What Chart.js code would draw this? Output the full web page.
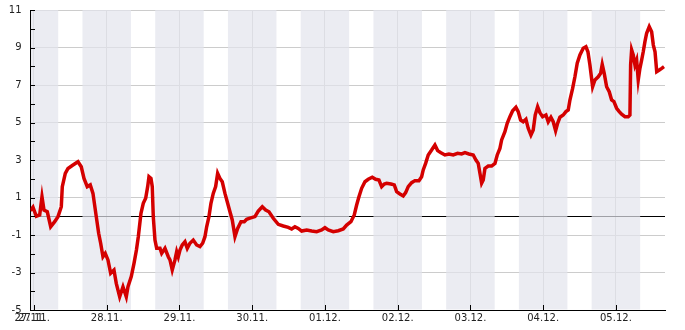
<!DOCTYPE html>
<html>
<head>
<meta charset="utf-8">
<script src="https://cdn.jsdelivr.net/npm/chart.js"></script>
<style>
  html, body { margin: 0; padding: 0; background: #fff; }
  canvas { display: block; }
</style>
</head>
<body>
<canvas id="chart" width="685" height="330"></canvas>
<script>
// --- Data: time in hours since 27.11. 00:00 ---
const dayLabels = ['27.11.', '28.11.', '29.11.', '30.11.', '01.12.', '02.12.', '03.12.', '04.12.', '05.12.'];

const hours = [
  -1.15, -0.33, 0.76, 1.88, 2.64, 3.30, 4.39, 5.51, 6.83, 7.92,
  9.01, 9.34, 10.33, 11.22, 12.87, 14.52, 15.60, 16.50, 17.58, 18.57,
  19.46, 20.55, 21.34, 22.00, 22.76, 23.52, 24.41, 25.30, 26.39, 27.15,
  28.27, 29.36, 30.45, 31.01, 32.10, 33.00, 33.80, 34.42, 35.30, 36.06,
  36.85, 37.51, 37.94, 38.60, 39.03, 39.36, 39.92, 40.48, 41.57, 42.13,
  43.22, 44.31, 44.87, 45.62, 46.52, 47.08, 47.60, 48.17, 48.92, 49.81,
  50.57, 51.46, 52.55, 53.67, 54.76, 55.65, 56.41, 56.97, 57.73, 58.39,
  59.15, 59.94, 60.60, 61.36, 62.12, 63.01, 63.90, 64.66, 65.42, 66.31,
  67.20, 68.29, 69.38, 70.17, 71.26, 72.91, 74.00, 75.32, 76.44, 77.53,
  78.95, 80.60, 82.25, 83.90, 85.02, 86.10, 87.19, 88.32, 89.97, 91.61,
  93.26, 94.91, 96.00, 97.09, 98.74, 100.39, 102.04, 103.16, 104.58, 105.67,
  106.46, 107.22, 108.11, 109.20, 110.29, 111.61, 112.73, 113.82, 114.71, 115.57,
  116.36, 117.78, 118.87, 119.66, 120.74, 121.83, 122.63, 123.48, 124.61, 125.69,
  127.01, 127.90, 128.43, 129.22, 130.08, 131.20, 132.29, 133.18, 134.27, 135.59,
  136.91, 138.33, 139.78, 141.10, 142.19, 143.51, 144.93, 145.82, 146.58, 147.14,
  147.70, 148.23, 148.79, 149.88, 151.00, 152.09, 152.85, 153.73, 154.30, 155.38,
  156.14, 157.03, 157.93, 159.01, 159.77, 160.56, 161.42, 162.31, 163.07, 163.96,
  164.72, 165.38, 166.17, 166.93, 167.82, 168.91, 169.67, 170.56, 171.32, 172.11,
  172.77, 173.53, 174.62, 175.51, 176.27, 176.83, 177.72, 178.48, 179.24, 180.13,
  181.22, 182.11, 182.77, 183.43, 184.32, 185.08, 186.17, 186.96, 187.49, 188.15,
  188.94, 189.80, 190.59, 191.35, 192.24, 193.10, 193.89, 194.98, 196.07, 196.63,
  196.86, 197.19, 197.72, 198.28, 198.84, 199.37, 199.93, 200.49, 201.02, 201.58,
  202.14, 203.00, 203.79, 204.35, 204.91, 205.47, 206.32, 207.12, 207.88
];

const values = [
  0.30, 0.48, 0.00, 0.07, 1.04, 0.33, 0.24, -0.56, -0.29, -0.02,
  0.51, 1.58, 2.29, 2.55, 2.73, 2.91, 2.64, 2.02, 1.58, 1.67,
  1.22, -0.02, -0.91, -1.44, -2.16, -1.98, -2.33, -3.04, -2.87, -3.58,
  -4.29, -3.76, -4.29, -3.76, -3.22, -2.51, -1.80, -1.09, 0.16, 0.69,
  0.96, 1.58, 2.11, 2.02, 1.58, -0.02, -1.27, -1.71, -1.71, -1.98,
  -1.71, -2.16, -2.33, -2.87, -2.33, -1.89, -2.16, -1.80, -1.53, -1.36,
  -1.71, -1.44, -1.27, -1.53, -1.62, -1.44, -1.09, -0.56, -0.02, 0.69,
  1.22, 1.58, 2.29, 2.02, 1.84, 1.22, 0.69, 0.24, -0.20, -1.09,
  -0.65, -0.29, -0.29, -0.16, -0.10, -0.02, 0.28, 0.51, 0.33, 0.24,
  -0.11, -0.43, -0.52, -0.59, -0.68, -0.56, -0.65, -0.79, -0.73, -0.79,
  -0.82, -0.73, -0.61, -0.73, -0.82, -0.77, -0.68, -0.47, -0.29, 0.07,
  0.60, 1.04, 1.49, 1.84, 1.97, 2.08, 1.97, 1.93, 1.58, 1.72,
  1.76, 1.72, 1.67, 1.31, 1.19, 1.08, 1.26, 1.58, 1.79, 1.90,
  1.90, 2.11, 2.47, 2.82, 3.27, 3.53, 3.80, 3.50, 3.39, 3.27,
  3.32, 3.27, 3.36, 3.32, 3.39, 3.32, 3.27, 3.00, 2.82, 2.29,
  1.76, 1.93, 2.55, 2.68, 2.68, 2.82, 3.27, 3.62, 4.07, 4.51,
  4.96, 5.31, 5.63, 5.81, 5.58, 5.13, 5.04, 5.17, 4.69, 4.33,
  4.60, 5.40, 5.84, 5.52, 5.31, 5.40, 5.04, 5.28, 5.04, 4.56,
  4.96, 5.28, 5.40, 5.58, 5.67, 6.20, 6.82, 7.44, 8.16, 8.60,
  8.96, 9.04, 8.77, 8.07, 6.91, 7.27, 7.44, 7.62, 8.10, 7.62,
  6.91, 6.64, 6.20, 6.11, 5.76, 5.58, 5.44, 5.31, 5.31, 5.40,
  8.07, 8.87, 8.60, 8.07, 8.33, 7.27, 7.89, 8.33, 8.77, 9.31,
  9.76, 10.11, 9.84, 9.13, 8.77, 7.71, 7.80, 7.89, 7.98
];

const xMin = -1.15, xMax = 208.2;
const yMin = -5, yMax = 11;

// night bands (+-8h around each midnight) and inward tick marks
const nightBands = {
  id: 'nightBands',
  beforeDatasetsDraw(chart) {
    const { ctx, chartArea: a, scales: { x } } = chart;
    ctx.save();
    ctx.beginPath();
    ctx.rect(a.left + 0.5, a.top, a.right - a.left - 0.5, a.bottom - a.top - 0.5);
    ctx.clip();
    ctx.fillStyle = 'rgba(226,228,236,0.7)';
    dayLabels.forEach((_, i) => {
      const x0 = x.getPixelForValue(i * 24 - 8);
      const x1 = x.getPixelForValue(i * 24 + 8);
      ctx.fillRect(x0, a.top, x1 - x0, a.bottom - a.top);
    });
    ctx.restore();
  },
  afterDraw(chart) {
    const { ctx, chartArea: a, scales: { x, y } } = chart;
    ctx.save();
    ctx.strokeStyle = '#000';
    ctx.lineWidth = 1;
    ctx.beginPath();
    for (let v = yMin; v <= yMax; v++) {
      const py = Math.round(y.getPixelForValue(v)) + 0.5;
      ctx.moveTo(a.left, py);
      ctx.lineTo(a.left + 4.5, py);
    }
    dayLabels.forEach((_, i) => {
      const px = Math.round(x.getPixelForValue(i * 24)) + 0.5;
      ctx.moveTo(px, a.bottom);
      ctx.lineTo(px, a.bottom - 5);
    });
    ctx.stroke();
    ctx.restore();
  }
};

Chart.defaults.font.family = 'DejaVu Sans';
Chart.defaults.font.size = 10;
Chart.defaults.color = '#222';

const ctx = document.getElementById('chart').getContext('2d');
const chart = new Chart(ctx, {
  type: 'line',
  data: {
    datasets: [{
      data: hours.map((h, i) => ({ x: h, y: values[i] })),
      borderColor: '#d40000',
      borderWidth: 3.5,
      pointRadius: 0,
      tension: 0,
      fill: false
    }]
  },
  options: {
    responsive: false,
    animation: false,
    layout: { padding: { left: 0, top: 10, right: 20, bottom: 0 } },
    plugins: { legend: { display: false }, tooltip: { enabled: false } },
    scales: {
      x: {
        type: 'linear',
        min: xMin,
        max: xMax,
        afterBuildTicks: s => {
          s.ticks = [{ value: xMin }].concat(dayLabels.map((_, i) => ({ value: i * 24 })));
        },
        afterFit: s => { s.height = 20; s.paddingLeft = 0; s.paddingRight = 0; },
        ticks: {
          autoSkip: false,
          maxRotation: 0,
          padding: 2,
          callback: v => v === xMin ? dayLabels[0] : dayLabels[Math.round(v / 24)]
        },
        grid: {
          drawTicks: false,
          color: c => (c.tick && c.tick.value === xMin) ? 'rgba(0,0,0,0)' : '#cccccc'
        },
        border: { display: true, color: '#000', width: 1 }
      },
      y: {
        min: yMin,
        max: yMax,
        afterBuildTicks: s => {
          const t = [];
          for (let v = yMin; v <= yMax; v++) t.push({ value: v });
          s.ticks = t;
        },
        afterFit: s => { s.width = 30.5; s.paddingTop = 0; s.paddingBottom = 0; },
        ticks: {
          padding: 9,
          callback: v => (Math.abs(v) % 2 === 1) ? String(v) : ''
        },
        grid: {
          drawTicks: false,
          color: c => {
            const v = c.tick ? c.tick.value : null;
            if (v === 0) return '#000';
            return (Math.abs(v) % 2 === 1) ? '#cccccc' : 'rgba(0,0,0,0)';
          }
        },
        border: { display: true, color: '#000', width: 1 }
      }
    }
  },
  plugins: [nightBands]
});
</script>
</body>
</html>
